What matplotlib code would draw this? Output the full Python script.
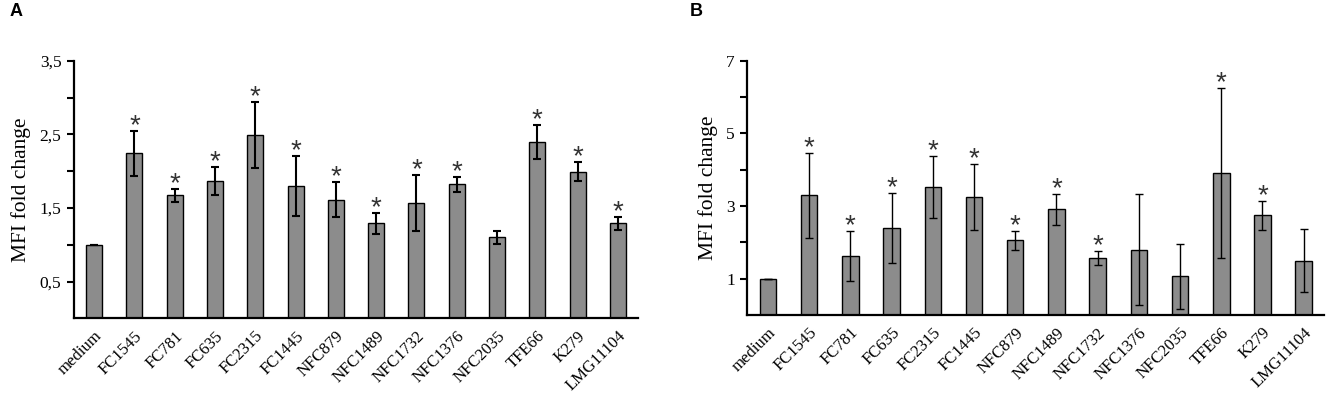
import matplotlib

matplotlib.use("Agg")
import matplotlib.pyplot as plt
import numpy as np

strains = ["medium", "FC1545", "FC781", "FC635", "FC2315", "FC1445", "NFC879",
           "NFC1489", "NFC1732", "NFC1376", "NFC2035", "TFE66", "K279", "LMG11104"]

# panel A
a_mean = [1.00, 2.24, 1.67, 1.86, 2.49, 1.80, 1.61, 1.29, 1.57, 1.82, 1.10, 2.39, 1.99, 1.29]
a_err = [0.00, 0.31, 0.09, 0.19, 0.45, 0.41, 0.24, 0.14, 0.38, 0.10, 0.09, 0.23, 0.13, 0.09]
a_sig = [False, True, True, True, True, True, True, True, True, True, False, True, True, True]

# panel B
b_mean = [1.00, 3.29, 1.62, 2.40, 3.52, 3.25, 2.06, 2.91, 1.57, 1.80, 1.06, 3.92, 2.74, 1.50]
b_err = [0.00, 1.16, 0.69, 0.96, 0.86, 0.92, 0.26, 0.42, 0.18, 1.53, 0.89, 2.34, 0.39, 0.86]
b_sig = [False, True, True, True, True, True, True, True, True, False, False, True, True, False]

SERIF = "Liberation Serif"
BAR = "#8c8c8c"

fig = plt.figure(figsize=(13.32, 4.0), dpi=100)
axA = fig.add_axes([74 / 1332, 81.7 / 400, 564 / 1332, 257.6 / 400])
axB = fig.add_axes([747.3 / 1332, 85 / 400, 577 / 1332, 254.3 / 400])


def panel(ax, mean, err, sig, ymax, step, labelled, elw, cap):
    x = np.arange(len(strains))
    ax.bar(x, mean, width=0.4, color=BAR, edgecolor="black", linewidth=1.0, zorder=2)
    ax.errorbar(x, mean, yerr=err, fmt="none", ecolor="black", elinewidth=elw,
                capsize=cap, capthick=elw, zorder=3)
    for xi, m, e, s in zip(x, mean, err, sig):
        if s:
            ax.annotate("*", (xi, m + e), xytext=(0, -1.6), textcoords="offset points",
                        ha="center", va="baseline", fontsize=20, family="Liberation Sans",
                        color="#333333")
    ax.set_xlim(-0.5, len(strains) - 0.5)
    ax.set_ylim(0, ymax)
    ticks = np.arange(step, ymax + 1e-9, step)
    ax.set_yticks(ticks)
    ax.set_yticklabels([(f"{t:g}".replace(".", ",") if any(abs(t - l) < 1e-9 for l in labelled) else "")
                        for t in ticks], family=SERIF, fontsize=12.5)
    ax.set_xticks(x)
    ax.set_xticklabels(strains, rotation=45, ha="right", rotation_mode="anchor",
                       family=SERIF, fontsize=12)
    ax.tick_params(axis="x", length=0, pad=7)
    ax.tick_params(axis="y", length=5, width=1.5, direction="out", pad=4)
    ax.set_ylabel("MFI fold change", family=SERIF, fontsize=15.5, labelpad=6)
    for s in ("top", "right"):
        ax.spines[s].set_visible(False)
    for s in ("left", "bottom"):
        ax.spines[s].set_linewidth(1.6)


panel(axA, a_mean, a_err, a_sig, 3.5, 0.5, [0.5, 1.5, 2.5, 3.5], 1.5, 3.0)
panel(axB, b_mean, b_err, b_sig, 7, 1, [1, 3, 5, 7], 1.0, 3.0)

fig.text(10 / 1332, 1 - 12 / 400, "A", fontsize=13, fontweight="bold",
         family="Liberation Sans", va="center")
fig.text(690 / 1332, 1 - 12 / 400, "B", fontsize=13, fontweight="bold",
         family="Liberation Sans", va="center")

fig.savefig("out.png", dpi=100)
